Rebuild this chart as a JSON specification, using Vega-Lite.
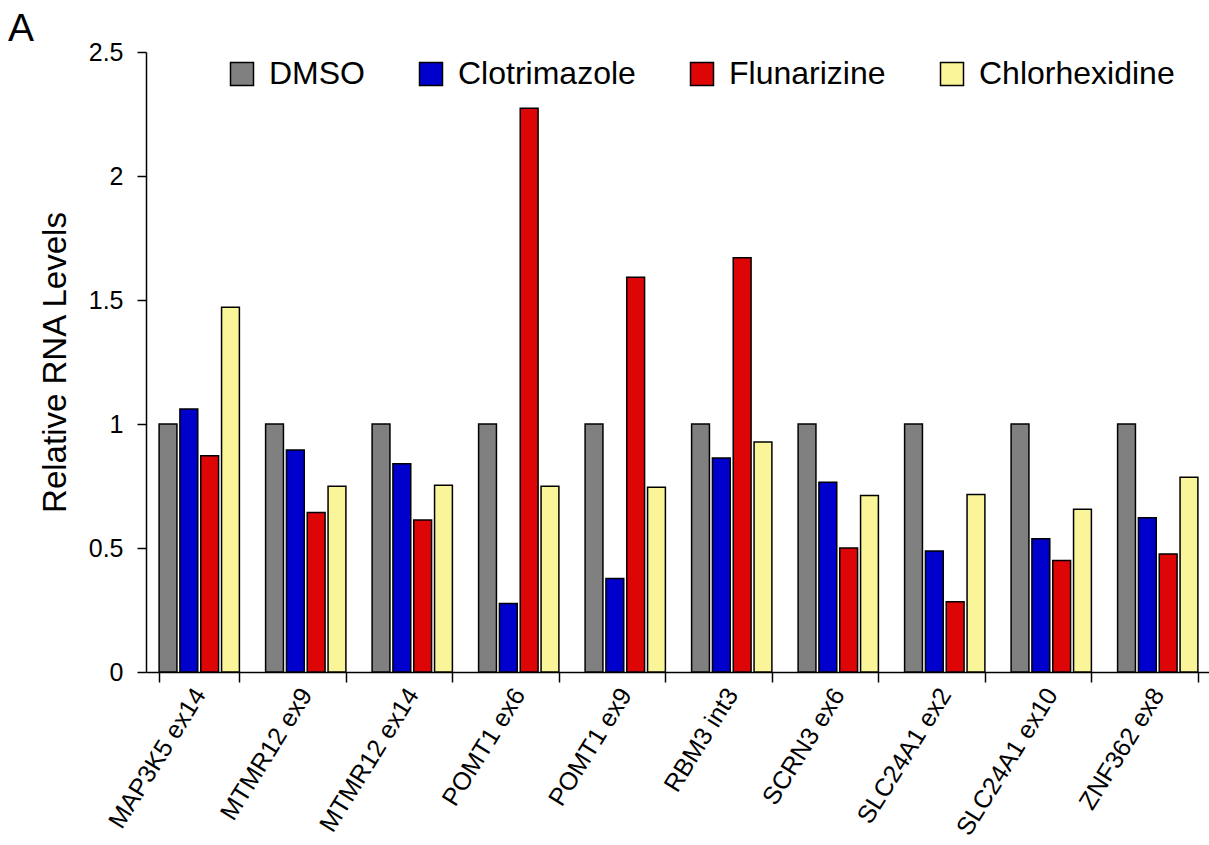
{
  "$schema": "https://vega.github.io/schema/vega-lite/v6.json",
  "autosize": "none",
  "width": 1065,
  "height": 620,
  "padding": {"left": 146, "top": 52, "right": 0, "bottom": 173},
  "background": "white",
  "title": {"text": "A", "anchor": "start", "frame": "group", "dx": -138, "dy": 49, "offset": 9, "baseline": "alphabetic", "fontSize": 39, "font": "Liberation Sans", "fontWeight": "normal", "color": "black"},
  "config": {
    "view": {"stroke": null},
    "font": "Liberation Sans",
    "axis": {"domainColor": "black", "tickColor": "black", "labelColor": "black", "titleColor": "black", "domainWidth": 1.5, "tickWidth": 1.5, "grid": false, "labelFont": "Liberation Sans", "titleFont": "Liberation Sans", "titleFontWeight": "normal"}
  },
  "data": {"values": [
    {"gene": "MAP3K5 ex14", "treatment": "DMSO", "value": 1.0},
    {"gene": "MAP3K5 ex14", "treatment": "Clotrimazole", "value": 1.06},
    {"gene": "MAP3K5 ex14", "treatment": "Flunarizine", "value": 0.872},
    {"gene": "MAP3K5 ex14", "treatment": "Chlorhexidine", "value": 1.471},
    {"gene": "MTMR12 ex9", "treatment": "DMSO", "value": 1.0},
    {"gene": "MTMR12 ex9", "treatment": "Clotrimazole", "value": 0.895},
    {"gene": "MTMR12 ex9", "treatment": "Flunarizine", "value": 0.643},
    {"gene": "MTMR12 ex9", "treatment": "Chlorhexidine", "value": 0.749},
    {"gene": "MTMR12 ex14", "treatment": "DMSO", "value": 1.0},
    {"gene": "MTMR12 ex14", "treatment": "Clotrimazole", "value": 0.84},
    {"gene": "MTMR12 ex14", "treatment": "Flunarizine", "value": 0.613},
    {"gene": "MTMR12 ex14", "treatment": "Chlorhexidine", "value": 0.753},
    {"gene": "POMT1 ex6", "treatment": "DMSO", "value": 1.0},
    {"gene": "POMT1 ex6", "treatment": "Clotrimazole", "value": 0.276},
    {"gene": "POMT1 ex6", "treatment": "Flunarizine", "value": 2.273},
    {"gene": "POMT1 ex6", "treatment": "Chlorhexidine", "value": 0.749},
    {"gene": "POMT1 ex9", "treatment": "DMSO", "value": 1.0},
    {"gene": "POMT1 ex9", "treatment": "Clotrimazole", "value": 0.377},
    {"gene": "POMT1 ex9", "treatment": "Flunarizine", "value": 1.592},
    {"gene": "POMT1 ex9", "treatment": "Chlorhexidine", "value": 0.745},
    {"gene": "RBM3 int3", "treatment": "DMSO", "value": 1.0},
    {"gene": "RBM3 int3", "treatment": "Clotrimazole", "value": 0.863},
    {"gene": "RBM3 int3", "treatment": "Flunarizine", "value": 1.67},
    {"gene": "RBM3 int3", "treatment": "Chlorhexidine", "value": 0.927},
    {"gene": "SCRN3 ex6", "treatment": "DMSO", "value": 1.0},
    {"gene": "SCRN3 ex6", "treatment": "Clotrimazole", "value": 0.765},
    {"gene": "SCRN3 ex6", "treatment": "Flunarizine", "value": 0.5},
    {"gene": "SCRN3 ex6", "treatment": "Chlorhexidine", "value": 0.712},
    {"gene": "SLC24A1 ex2", "treatment": "DMSO", "value": 1.0},
    {"gene": "SLC24A1 ex2", "treatment": "Clotrimazole", "value": 0.488},
    {"gene": "SLC24A1 ex2", "treatment": "Flunarizine", "value": 0.283},
    {"gene": "SLC24A1 ex2", "treatment": "Chlorhexidine", "value": 0.716},
    {"gene": "SLC24A1 ex10", "treatment": "DMSO", "value": 1.0},
    {"gene": "SLC24A1 ex10", "treatment": "Clotrimazole", "value": 0.537},
    {"gene": "SLC24A1 ex10", "treatment": "Flunarizine", "value": 0.45},
    {"gene": "SLC24A1 ex10", "treatment": "Chlorhexidine", "value": 0.656},
    {"gene": "ZNF362 ex8", "treatment": "DMSO", "value": 1.0},
    {"gene": "ZNF362 ex8", "treatment": "Clotrimazole", "value": 0.622},
    {"gene": "ZNF362 ex8", "treatment": "Flunarizine", "value": 0.476},
    {"gene": "ZNF362 ex8", "treatment": "Chlorhexidine", "value": 0.785}
  ]},
  "mark": {"type": "bar", "stroke": "black", "strokeWidth": 1.5},
  "encoding": {
    "x": {
      "field": "gene", "type": "nominal", "sort": null,
      "scale": {"paddingInner": 0.246, "paddingOuter": 0.123},
      "axis": {"title": null, "labelAngle": -58, "labelAlign": "right", "labelBaseline": "middle", "labelFontSize": 25, "tickBand": "extent", "tickSize": 10, "labelPadding": 8}
    },
    "xOffset": {
      "field": "treatment", "type": "nominal", "sort": ["DMSO", "Clotrimazole", "Flunarizine", "Chlorhexidine"],
      "scale": {"paddingInner": 0.143, "paddingOuter": 0}
    },
    "y": {
      "field": "value", "type": "quantitative",
      "scale": {"domain": [0, 2.5], "nice": false},
      "axis": {"title": "Relative RNA Levels", "values": [0, 0.5, 1, 1.5, 2, 2.5], "format": "~g", "labelFontSize": 25, "titleFontSize": 33, "tickSize": 9, "labelPadding": 14, "titlePadding": 16}
    },
    "color": {
      "field": "treatment", "type": "nominal",
      "sort": ["DMSO", "Clotrimazole", "Flunarizine", "Chlorhexidine"],
      "scale": {"domain": ["DMSO", "Clotrimazole", "Flunarizine", "Chlorhexidine"], "range": ["#808080", "#0000CC", "#DD0505", "#FAF598"]},
      "legend": {"title": null, "orient": "none", "legendX": 80, "legendY": 6, "direction": "horizontal", "columns": 4, "symbolType": "square", "symbolSize": 529, "symbolStrokeColor": "black", "symbolStrokeWidth": 1.5, "symbolOpacity": 1, "labelFontSize": 32, "labelColor": "black", "labelFont": "Liberation Sans", "columnPadding": 50, "labelOffset": 11, "labelLimit": 400}
    }
  }
}
